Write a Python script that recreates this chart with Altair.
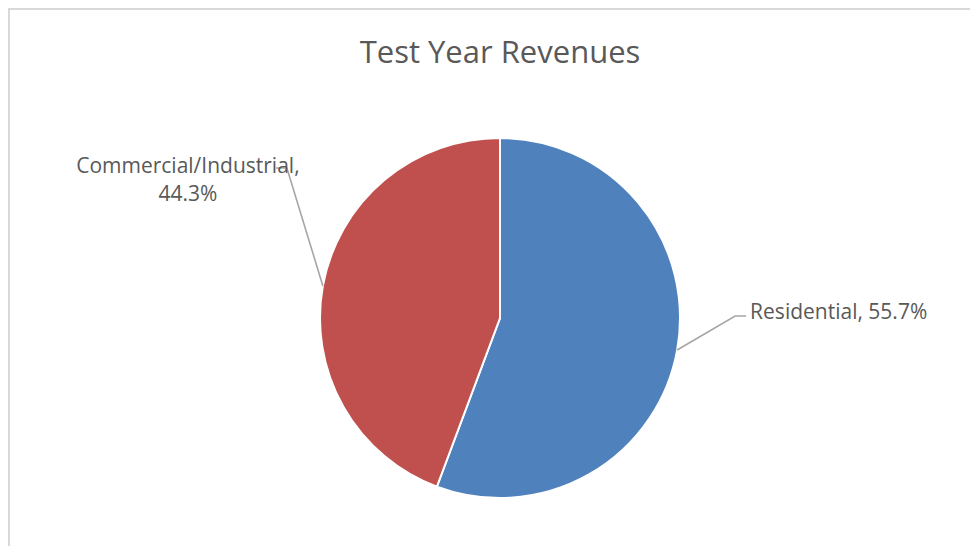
import math
import altair as alt
import pandas as pd

# ---- data ----
categories = ["Residential", "Commercial/Industrial"]
shares = [55.7, 44.3]
colors = ["#4F81BD", "#C0504D"]
title_text = "Test Year Revenues"

# ---- layout (styles) ----
W, H = 962, 538
CX, CY, R = 492, 310, 180
FONT = "Open Sans"
TXT = "#595959"

df = pd.DataFrame({"category": categories, "value": shares, "order": [0, 1]})

# leader lines derived from slice mid-angles
total = sum(shares)
cum = 0.0
arc_pts = {}
for c, v in zip(categories, shares):
    mid = (cum + v / 2) / total * 2 * math.pi
    cum += v
    arc_pts[c] = (CX + R * math.sin(mid), CY - R * math.cos(mid))

elbows = {"Residential": [(58, -34), (69, -34)],
          "Commercial/Industrial": [(-36, -118), (-47, -118)]}
rows = []
for c in categories:
    ax, ay = arc_pts[c]
    rows.append({"category": c, "seq": 0, "x": ax, "y": ay})
    for i, (dx, dy) in enumerate(elbows[c]):
        rows.append({"category": c, "seq": i + 1, "x": ax + dx, "y": ay + dy})
lines_df = pd.DataFrame(rows)

xs = alt.Scale(domain=[0, W], nice=False, zero=False)
ys = alt.Scale(domain=[0, H], nice=False, zero=False, reverse=True)

pie = alt.Chart(df).mark_arc(outerRadius=R, stroke="white", strokeWidth=2).encode(
    theta=alt.Theta("value:Q", stack=True),
    color=alt.Color("category:N", scale=alt.Scale(domain=categories, range=colors), legend=None),
    order=alt.Order("order:Q"),
    x=alt.value(CX),
    y=alt.value(CY),
)

leaders = alt.Chart(lines_df).mark_line(color="#A6A6A6", strokeWidth=1.6).encode(
    x=alt.X("x:Q", scale=xs, axis=None),
    y=alt.Y("y:Q", scale=ys, axis=None),
    detail="category:N",
    order="seq:Q",
)

lab_df = pd.DataFrame({
    "category": categories,
    "label": [f"{c}, {v:.1f}%" for c, v in zip(categories, shares)],
})

res_x, res_y = arc_pts["Residential"]
res_label = alt.Chart(lab_df[lab_df.category == "Residential"]).mark_text(
    font=FONT, fontSize=21, color=TXT, align="left", baseline="middle",
    x=res_x + 73, y=res_y - 37,
).encode(text="label:N")

com_x, com_y = arc_pts["Commercial/Industrial"]
com_df = pd.DataFrame({"label": [f"{categories[1]},", f"{shares[1]:.1f}%"], "line": [0, 1]})
com_label = alt.Chart(com_df).mark_text(
    font=FONT, fontSize=21, color=TXT, align="center", baseline="middle",
    x=com_x - 135,
).encode(
    text="label:N",
    y=alt.Y("line:Q", scale=alt.Scale(domain=[0, 1], range=[com_y - 119, com_y - 91]), axis=None),
)

title = alt.Chart(pd.DataFrame({"t": [title_text]})).mark_text(
    font=FONT, fontSize=31, color=TXT, align="center", baseline="middle",
    x=CX, y=46,
).encode(text="t:N")

border_top = alt.Chart(pd.DataFrame({"a": [0]})).mark_rule(color="#D9D9D9", strokeWidth=2).encode(
    x=alt.value(0), x2=alt.value(W), y=alt.value(1))
border_left = alt.Chart(pd.DataFrame({"a": [0]})).mark_rule(color="#D9D9D9", strokeWidth=2).encode(
    x=alt.value(1), y=alt.value(0), y2=alt.value(H))

chart = alt.layer(border_top, border_left, pie, leaders, res_label, com_label, title).resolve_scale(
    y="independent"
).properties(
    width=W, height=H, autosize=alt.AutoSizeParams(type="none"), padding=0,
).configure_view(stroke=None)

chart.save("out.html", embed_options={"renderer": "svg", "actions": False})
